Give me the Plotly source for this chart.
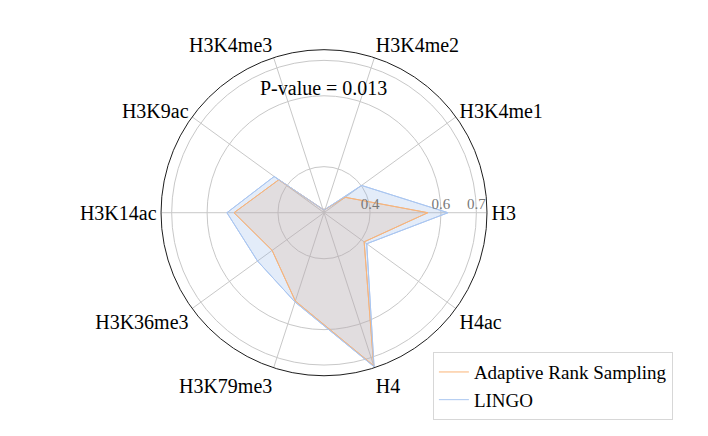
import plotly.graph_objects as go

categories = ["H3", "H3K4me1", "H3K4me2", "H3K4me3", "H3K9ac",
              "H3K14ac", "H3K36me3", "H3K79me3", "H4", "H4ac"]
adaptive = [0.563, 0.344, 0.28, 0.28, 0.428, 0.524, 0.451, 0.532, 0.724, 0.41]
lingo = [0.62, 0.401, 0.28, 0.28, 0.444, 0.544, 0.502, 0.535, 0.727, 0.419]
radial_ticks = [0.4, 0.6, 0.7]

font_family = "Liberation Serif, Times New Roman, Times, serif"

orange_line = "rgb(250,180,120)"
blue_line = "rgb(170,198,240)"

def closed(v):
    return list(v) + [v[0]]

fig = go.Figure()
fig.add_trace(go.Scatterpolar(
    r=closed(adaptive), theta=closed(categories), showlegend=False,
    mode="lines", line=dict(color=orange_line, width=1),
    fill="toself", fillcolor="rgba(245,165,100,0.22)", hoverinfo="skip",
))
fig.add_trace(go.Scatterpolar(
    r=closed(lingo), theta=closed(categories), showlegend=False,
    mode="lines", line=dict(color=blue_line, width=1),
    fill="toself", fillcolor="rgba(140,175,230,0.24)", hoverinfo="skip",
))
fig.add_trace(go.Scatterpolar(
    r=closed(adaptive), theta=closed(categories), name="Adaptive Rank Sampling",
    mode="lines", line=dict(color=orange_line, width=1),
))
fig.add_trace(go.Scatterpolar(
    r=closed(lingo), theta=closed(categories), name="LINGO",
    mode="lines", line=dict(color=blue_line, width=1),
))

fig.update_layout(
    width=700, height=428,
    margin=dict(l=0, r=0, t=0, b=0),
    paper_bgcolor="white",
    font=dict(family=font_family, color="black"),
    polar=dict(
        domain=dict(x=[0.2186, 0.6843], y=[0.1409, 0.9025]),
        bgcolor="white",
        radialaxis=dict(
            range=[0.27, 0.73], tickvals=radial_ticks,
            ticktext=[str(t) for t in radial_ticks],
            angle=0, side="counterclockwise",
            showline=False, ticks="",
            gridcolor="rgb(200,200,200)", gridwidth=1,
            tickfont=dict(size=15, color="rgb(120,120,120)", family=font_family),
        ),
        angularaxis=dict(
            direction="counterclockwise", rotation=0,
            showline=True, linecolor="rgb(30,30,30)", linewidth=1,
            gridcolor="rgb(200,200,200)", gridwidth=1,
            ticks="",
            tickfont=dict(size=20, color="black", family=font_family),
        ),
    ),
    legend=dict(
        x=0.607, y=0.196, xanchor="left", yanchor="top",
        bordercolor="rgb(215,215,215)", borderwidth=1,
        font=dict(size=19, family=font_family, color="black"),
        bgcolor="white", tracegroupgap=0,
    ),
    annotations=[dict(
        text="P-value = 0.013", x=0.4507, y=0.813, xref="paper", yref="paper",
        xanchor="center", yanchor="middle",
        showarrow=False, font=dict(size=20, family=font_family, color="black"),
    )],
)

fig.write_html("out.html")
